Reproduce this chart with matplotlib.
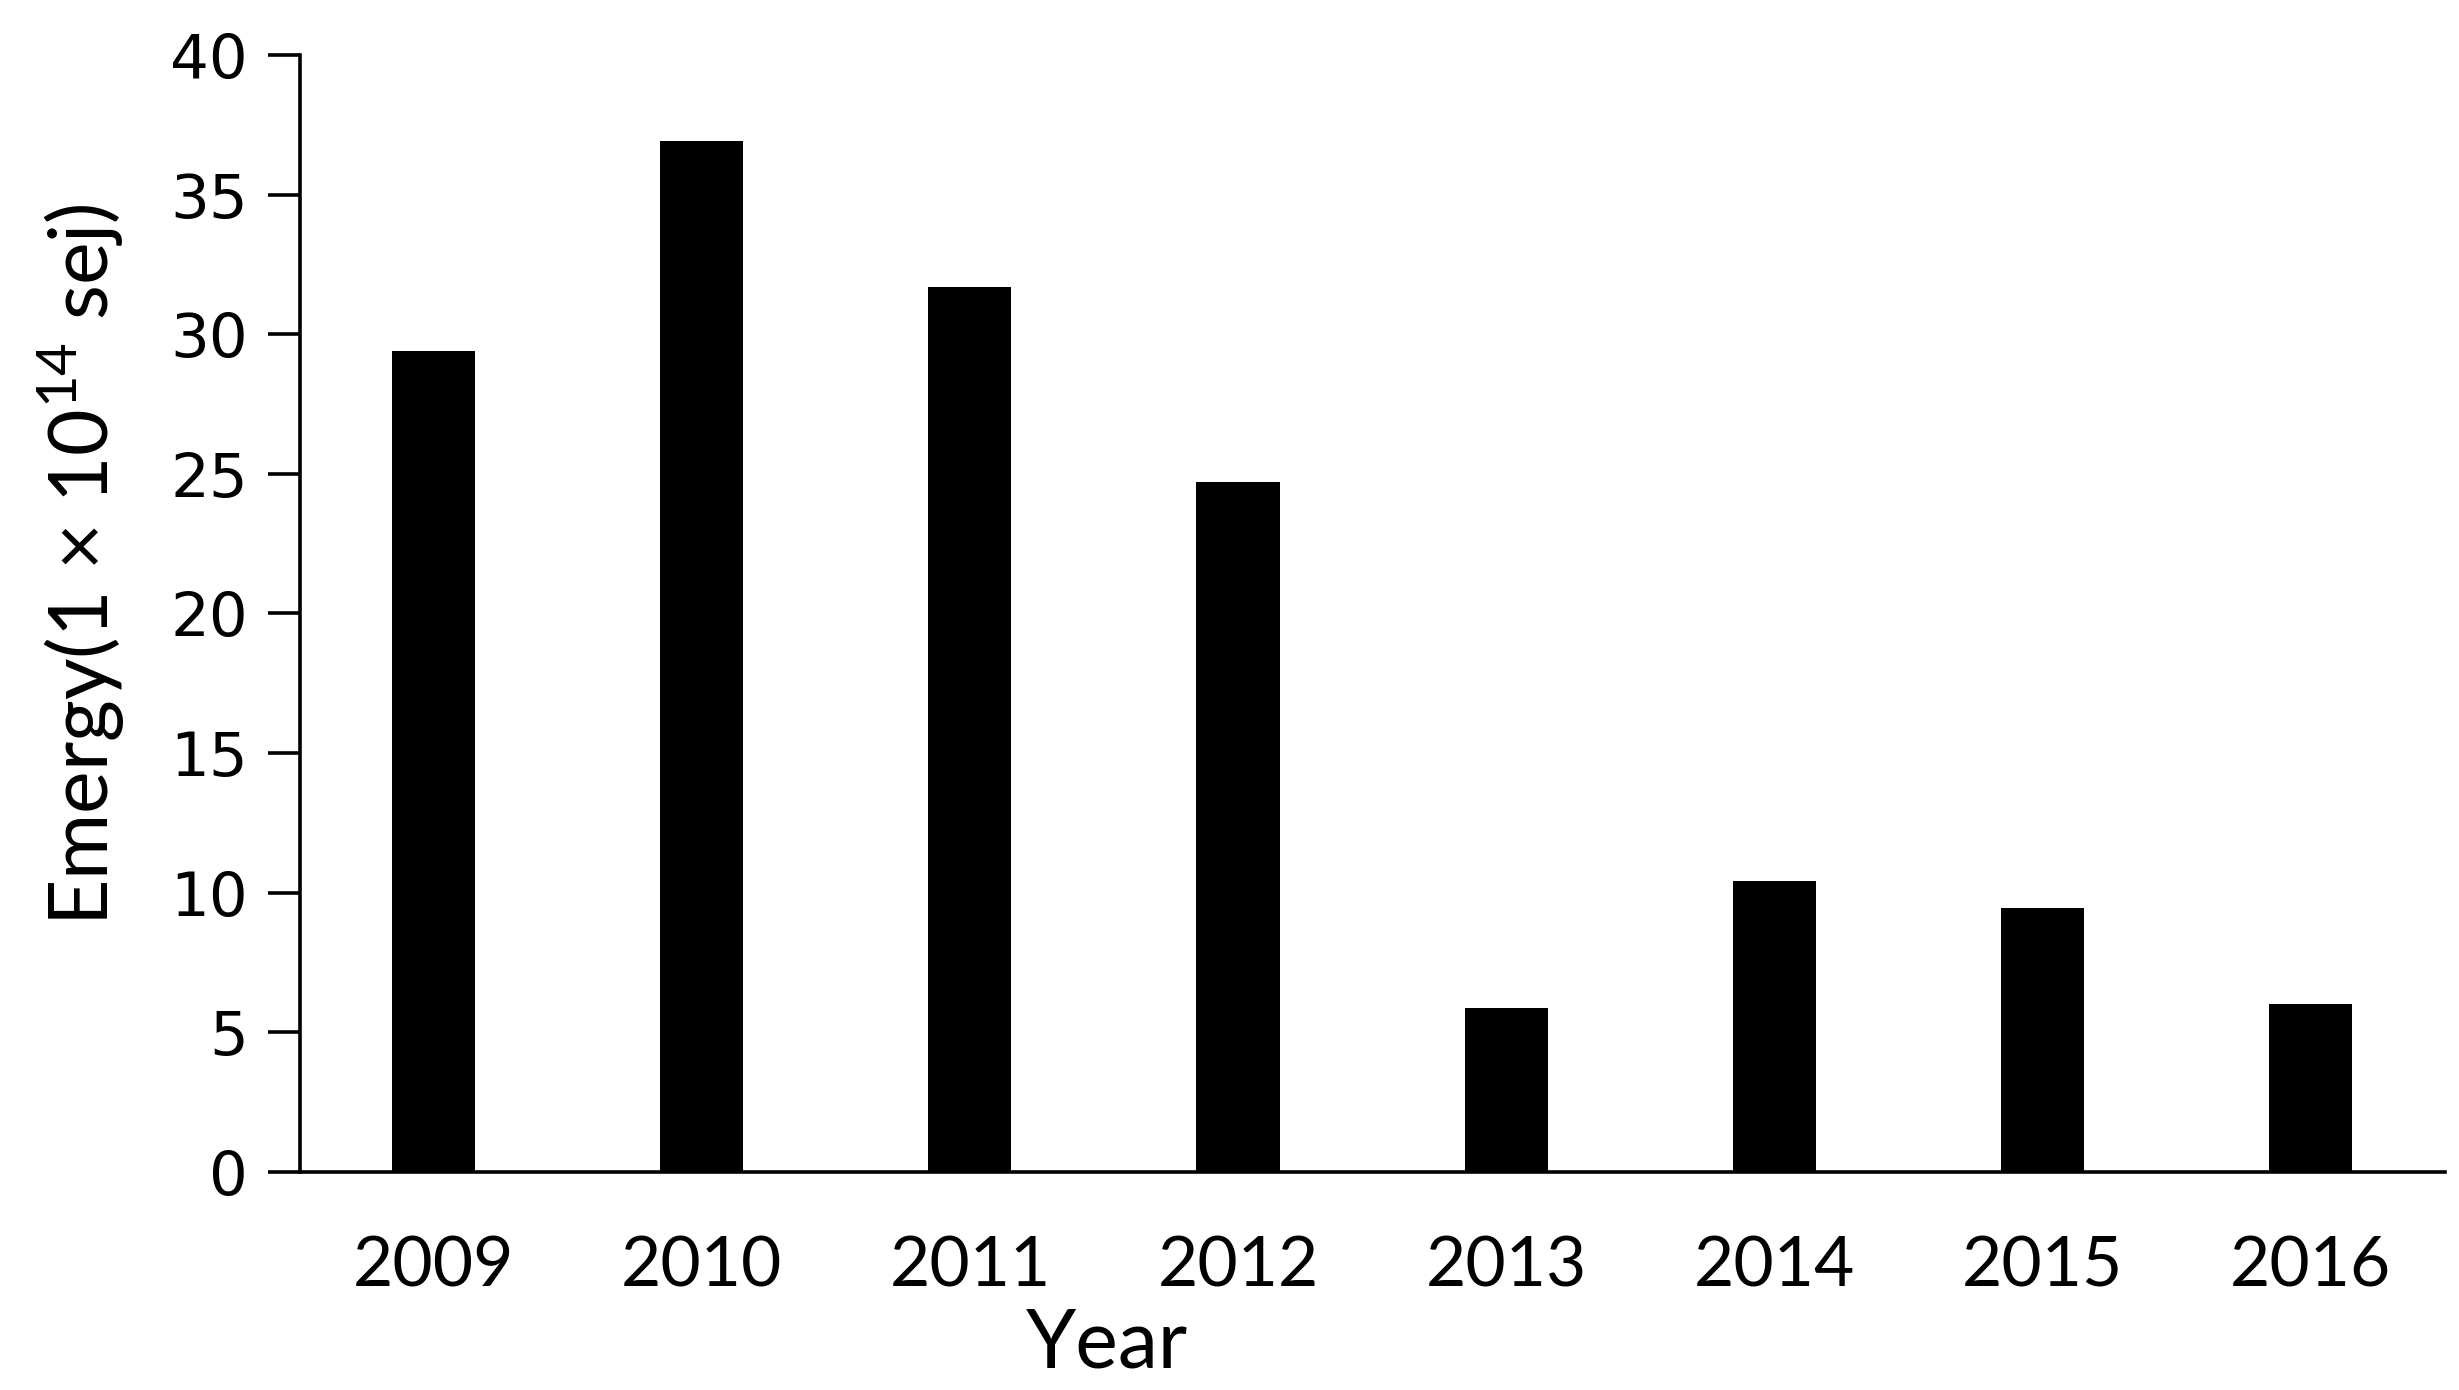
import matplotlib
matplotlib.use('Agg')
import matplotlib.pyplot as plt
import numpy as np

years = ['2009', '2010', '2011', '2012', '2013', '2014', '2015', '2016']
emergy = [29.4, 36.9, 31.7, 24.7, 5.85, 10.4, 9.45, 6.0]
yticks = [0, 5, 10, 15, 20, 25, 30, 35, 40]

plt.rcParams['mathtext.fontset'] = 'custom'
plt.rcParams['mathtext.rm'] = 'Lato'

fig = plt.figure(figsize=(24.59, 13.90), dpi=100)
ax = fig.add_axes([0.1218, 0.157, 0.8724, 0.8035])

x = np.arange(len(years))
ax.bar(x, emergy, width=0.31, color='black')

ax.set_xlim(-0.5, 7.5)
ax.set_ylim(0, 40)
ax.set_yticks(yticks)
ax.set_yticklabels([str(v) for v in yticks], fontsize=44, family='DejaVu Sans')
ax.set_xticks(x)
ax.set_xticklabels(years, fontsize=50, family=['Lato', 'DejaVu Sans'])

ax.spines['top'].set_visible(False)
ax.spines['right'].set_visible(False)
ax.spines['left'].set_linewidth(2.6)
ax.spines['bottom'].set_linewidth(2.6)
ax.tick_params(axis='y', length=23, width=2.6, pad=14)
ax.tick_params(axis='x', length=0, pad=46)

# axis titles placed in figure coords
fig.text(0.45, 0.033, 'Year', fontsize=58, family=['Lato', 'DejaVu Sans'],
         ha='center', va='center')
fig.text(0.033, 0.594, 'Emergy(1 × 10$^{\\mathregular{14}}$ sej)', fontsize=58,
         family=['Lato', 'DejaVu Sans'], rotation=90, ha='center', va='center')

fig.savefig('out.png', dpi=100)
